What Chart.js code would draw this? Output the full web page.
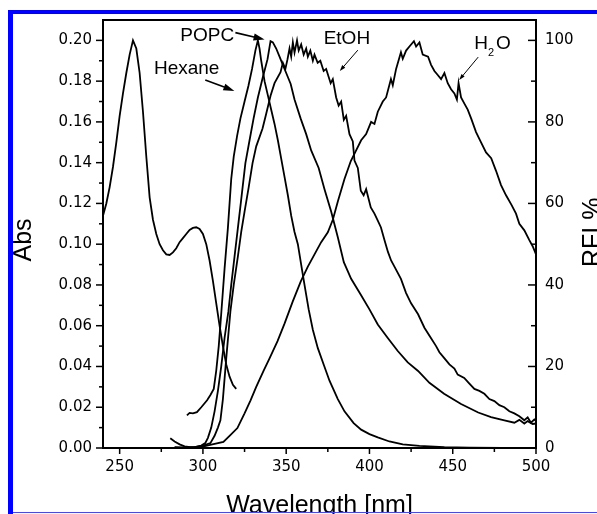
<!DOCTYPE html>
<html>
<head>
<meta charset="utf-8">
<script src="https://cdn.jsdelivr.net/npm/chart.js@4.4.0/dist/chart.umd.min.js"></script>
<style>
html,body{margin:0;padding:0;background:#fff;}
#wrap{position:relative;width:597px;height:514px;overflow:hidden;}
.bl{position:absolute;background:#0000ff;}
</style>
</head>
<body>
<div id="wrap">
<canvas id="chart" width="597" height="514"></canvas>
<div class="bl" style="left:8px;top:10px;width:589px;height:4px"></div>
<div class="bl" style="left:8px;top:10px;width:5px;height:504px"></div>
<div class="bl" style="left:13px;top:512px;width:584px;height:1px;background:#4848f0"></div>
</div>
<script>
// absorbance (left axis)
var absWl=[240,242,244,246,248,250,252,254,256,258,260,262,264,266,268,270,272,274,276,278,280,282,284,286,288,290,292,294,296,298,300,302,304,306,308,310,312,314,316,318,320];
var absVal=[0.114,0.120,0.128,0.138,0.150,0.163,0.174,0.184,0.193,0.200,0.196,0.184,0.165,0.143,0.123,0.112,0.105,0.100,0.097,0.095,0.0947,0.096,0.098,0.101,0.103,0.105,0.107,0.108,0.1083,0.1075,0.105,0.100,0.092,0.082,0.071,0.060,0.050,0.041,0.035,0.031,0.029];

// emission, RFI % (right axis)
var hexWl=[290.4,292,294,296.4,299,302.5,304.5,306.5,308,309.5,311,313,315,317,318.5,320.5,322.5,325,327.3,329.5,331.5,333,334,335,337,339,341,343,345,347,349,351,353,355,357,359,361,363.5,366,369,372.5,376,381,385,390.5,395,400,405,412,420,430,445,460,480,500];
var hexRfi=[8.0,8.6,8.5,8.8,10.0,11.7,13.0,14.5,19,25,33,44,54,66,71.5,76.5,80.8,85,88.8,93,97.5,100,98,95,90,86.5,83,79.5,75.5,71,66.5,62,57,53,50,45,40,34,29,24.5,20.5,16.5,12,9,6.1,4.5,3.4,2.6,1.6,0.9,0.5,0.2,0.1,0,0];

var popcWl=[283,290,295,299,301.4,303,305,307,309,311,313,315.3,317,319,321,323,325.5,328,330.4,333,336,338.8,340.6,342,344,346,348,350,352.7,355,358.7,362,365,369.5,373,377,381,384.6,389,394.8,400,405,411,417,423,429.2,436,444.8,455,465.3,473,481,487,490,493,495,498,501.4];
var popcRfi=[0.2,0.1,0.2,0.6,1.2,2.5,5,9,14,20,27,33.5,40,47,54,61,69.9,75.5,80.8,86,91,95.4,99.8,99.5,98,96,94,92,89.3,85.5,80.8,77,73,68.7,63.5,58,51.7,45.6,41.5,37.6,34,30.3,27,23.8,21,18.9,16,13.3,10.8,8.7,7.6,6.8,6.2,6.9,6.0,6.6,5.9,6.1];

var etohWl=[280.4,283,286,289,292.4,296,300,304.5,307,309,310.5,312,314,316.5,318.5,321,323,325,327.5,329.8,332,335.8,338,340.6,343,346.6,348,349.5,350.8,352,353,354,355,356.5,357.5,359,360.5,362,363,364.5,366,367,368.9,370.5,372.5,374,376.7,378,380,381.5,383,384.6,386,388,390,391,393,394.8,396.5,398,400.8,403,405,406.9,409,411.1,413,415,418.9,422,425,429.2,433,437,440,442,444.8,448,451,453,456.9,460,463,466,469,472,475,478,481,484,487,490,493,495,497,499,501.4];
var etohRfi=[2.4,1.6,0.9,0.4,0.2,0.3,0.6,1.2,3,5,6.8,12,22,33.5,40,47,53,58,64,69.9,74,78.4,82,86.4,89.5,92.2,94.5,93,95.4,98,96,99.5,97,100,97.5,99,96.5,98,96,97.5,95,96.5,94.5,95,92.5,93,89.5,90.5,86,84,85,80.5,81.5,77,75.2,70.5,68.7,63.1,62,63.5,59,57.5,55.8,54.1,51,48.1,46,44.5,41.5,38,35.5,32.8,29.5,26.9,25,23.5,22.1,20.5,19.5,18,17.2,15.8,14.5,14,13.3,12,11.5,10.5,10,9,8.5,7.8,6.8,7.5,6.2,7,6.1];

var h2oWl=[283,290,298.4,305,312.3,316,320.7,325,328.6,332,336.4,340,344.8,349,353.9,358.7,363,367,371,375,378,381,385,388.8,392,395,398,401,403,405,408,410,412.9,414,416,418.9,420,422,424,426.7,428,430,432,435.2,437,439,441,443,445,447,449,451,452.5,453.5,455,457,459,461.1,464,467,470,473.1,476,479,482,485.2,488,490,493,496,498,501];
var h2oRfi=[0.1,0.1,0.2,0.8,1.5,3,4.9,8.5,11.7,15,18.9,22,26.2,30.5,35.9,40.8,44.5,47.5,50.5,52.9,56,60.5,66,70.4,73,75.5,77,80,79.5,82.5,85,86,90.5,89,93,97.1,95.5,97.5,98.5,99.8,98.5,99.5,96.5,96,94,92.5,91.5,90.5,92,89.5,88,87,85.5,89.5,86,84.5,83,80.8,77.5,75,72.5,71.1,68,64.5,62,59.7,57.5,55,53.4,51,49.5,46.5];

// ticks
var xTicks=[250,300,350,400,450,500];
var xMinor=[275,325,375,425,475];
var absTicks=[0,0.02,0.04,0.06,0.08,0.10,0.12,0.14,0.16,0.18,0.20];
var absMinor=[0.01,0.03,0.05,0.07,0.09,0.11,0.13,0.15,0.17,0.19];
var rfiTicks=[0,20,40,60,80,100];
var rfiMinor=[10,30,50,70,90];

// labels with arrows, in data units (wavelength, RFI %)
var notes=[
  {t:'POPC',x:286.4,y:99.8,align:'left'},
  {t:'Hexane',x:309.9,y:91.7,align:'right'},
  {t:'EtOH',x:372.5,y:99,align:'left'}
];
var arrows=[
  [319.5,101.9,337,100.2,true],
  [301.4,90.3,318.9,87.6,true],
  [393,97.6,382.2,92.5,false],
  [465.3,95.9,453.9,90.3,false]
];

function pts(xs,ys){
  return xs.map(function(x,i){return {x:x,y:ys[i]};});
}
function ds(xs,ys,axis){
  return {data:pts(xs,ys),yAxisID:axis,borderColor:'#000',borderWidth:1.8,pointRadius:0,tension:0,fill:false};
}

var frame={
  id:'frame',
  afterDraw:function(chart){
    var ctx=chart.ctx,a=chart.chartArea;
    var sx=chart.scales.x,sy=chart.scales.y,sr=chart.scales.y2;
    ctx.save();
    ctx.strokeStyle='#000';
    ctx.lineWidth=2;
    ctx.beginPath();ctx.moveTo(a.left-1,a.top);ctx.lineTo(a.right+1,a.top);ctx.stroke();
    ctx.lineWidth=1.5;
    function seg(x1,y1,x2,y2){ctx.beginPath();ctx.moveTo(x1,y1);ctx.lineTo(x2,y2);ctx.stroke();}
    xTicks.forEach(function(v){var p=sx.getPixelForValue(v);seg(p,a.bottom,p,a.bottom+6);});
    xMinor.forEach(function(v){var p=sx.getPixelForValue(v);seg(p,a.bottom,p,a.bottom+4);});
    absTicks.forEach(function(v){var p=sy.getPixelForValue(v);seg(a.left-7,p,a.left,p);});
    absMinor.forEach(function(v){var p=sy.getPixelForValue(v);seg(a.left-4,p,a.left,p);});
    rfiTicks.forEach(function(v){var p=sr.getPixelForValue(v);seg(a.right-8,p,a.right,p);});
    rfiMinor.forEach(function(v){var p=sr.getPixelForValue(v);seg(a.right-5,p,a.right,p);});

    // axis titles
    ctx.fillStyle='#000';
    ctx.font='25px "Liberation Sans", Arial, sans-serif';
    ctx.textBaseline='alphabetic';
    ctx.textAlign='center';
    ctx.fillText('Wavelength [nm]',(a.left+a.right)/2,513);
    ctx.save();ctx.translate(31,240);ctx.rotate(-Math.PI/2);ctx.fillText('Abs',0,0);ctx.restore();
    ctx.save();ctx.translate(600,267);ctx.rotate(-Math.PI/2);ctx.textAlign='left';ctx.fillText('RFI %',0,0);ctx.restore();

    // annotations
    ctx.font='19px "Liberation Sans", Arial, sans-serif';
    notes.forEach(function(n){
      ctx.textAlign=n.align;
      ctx.fillText(n.t,sx.getPixelForValue(n.x),sr.getPixelForValue(n.y));
    });
    var hx=sx.getPixelForValue(462.9),hy=sr.getPixelForValue(97.8);
    ctx.textAlign='left';
    ctx.fillText('H',hx,hy);
    var hw=ctx.measureText('H').width;
    ctx.font='11px "Liberation Sans", Arial, sans-serif';
    ctx.fillText('2',hx+hw,hy+7);
    ctx.font='19px "Liberation Sans", Arial, sans-serif';
    ctx.fillText('O',hx+hw+8,hy);

    arrows.forEach(function(r){
      var x1=sx.getPixelForValue(r[0]),y1=sr.getPixelForValue(r[1]);
      var x2=sx.getPixelForValue(r[2]),y2=sr.getPixelForValue(r[3]);
      var big=r[4],L=big?11:6,W=big?3.5:2;
      var ang=Math.atan2(y2-y1,x2-x1);
      ctx.lineWidth=big?1.6:1;
      seg(x1,y1,x2-Math.cos(ang)*L*0.6,y2-Math.sin(ang)*L*0.6);
      ctx.beginPath();
      ctx.moveTo(x2,y2);
      ctx.lineTo(x2-Math.cos(ang)*L-Math.sin(ang)*W,y2-Math.sin(ang)*L+Math.cos(ang)*W);
      ctx.lineTo(x2-Math.cos(ang)*L+Math.sin(ang)*W,y2-Math.sin(ang)*L-Math.cos(ang)*W);
      ctx.closePath();
      ctx.fill();
    });
    ctx.restore();
  }
};

var tickFont={family:'"DejaVu Sans", sans-serif',size:15};

new Chart(document.getElementById('chart'),{
  type:'line',
  data:{datasets:[
    ds(absWl,absVal,'y'),
    ds(hexWl,hexRfi,'y2'),
    ds(popcWl,popcRfi,'y2'),
    ds(etohWl,etohRfi,'y2'),
    ds(h2oWl,h2oRfi,'y2')
  ]},
  options:{
    responsive:false,
    animation:false,
    devicePixelRatio:1,
    layout:{padding:{top:15,left:0,right:0,bottom:0}},
    plugins:{legend:{display:false},tooltip:{enabled:false}},
    scales:{
      x:{
        type:'linear',min:240,max:500,
        grid:{display:false,drawTicks:false},
        border:{display:true,color:'#000',width:2},
        afterBuildTicks:function(s){s.ticks=xTicks.map(function(v){return {value:v};});},
        afterFit:function(s){s.height=66;},
        ticks:{font:tickFont,color:'#000',padding:10,autoSkip:false,maxRotation:0,callback:function(v){return String(v);}}
      },
      y:{
        type:'linear',position:'left',min:0,max:0.21,
        grid:{display:false,drawTicks:false},
        border:{display:true,color:'#000',width:2},
        afterBuildTicks:function(s){s.ticks=absTicks.map(function(v){return {value:v};});},
        afterFit:function(s){s.width=103;},
        ticks:{font:tickFont,color:'#000',padding:11,autoSkip:false,callback:function(v){return v.toFixed(2);}}
      },
      y2:{
        type:'linear',position:'right',min:0,max:105,
        grid:{display:false,drawTicks:false},
        border:{display:true,color:'#000',width:2},
        afterBuildTicks:function(s){s.ticks=rfiTicks.map(function(v){return {value:v};});},
        afterFit:function(s){s.width=61;},
        ticks:{font:tickFont,color:'#000',padding:9,autoSkip:false,callback:function(v){return String(v);}}
      }
    }
  },
  plugins:[frame]
});
</script>
</body>
</html>
